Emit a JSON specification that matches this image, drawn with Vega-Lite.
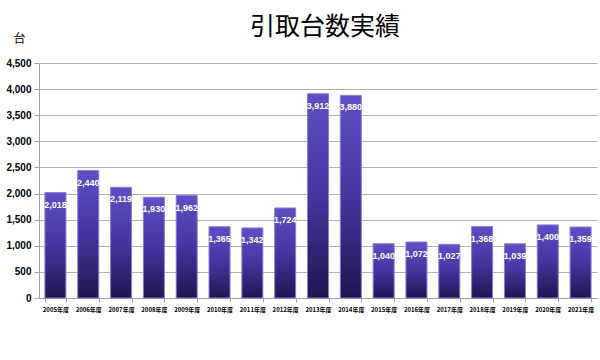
{
  "$schema": "https://vega.github.io/schema/vega-lite/v6.json",
  "autosize": "none",
  "width": 558,
  "height": 235,
  "padding": {"left": 39, "top": 63, "right": 3, "bottom": 62},
  "background": "white",
  "title": {"text": "引取台数実績", "fontSize": 25, "font": "Noto Sans CJK JP", "fontWeight": "normal", "color": "#000000", "offset": -8, "dx": 7, "anchor": "middle"},
  "data": {"values": [
    {"year": "2005年度", "v": 2018},
    {"year": "2006年度", "v": 2440},
    {"year": "2007年度", "v": 2119},
    {"year": "2008年度", "v": 1930},
    {"year": "2009年度", "v": 1962},
    {"year": "2010年度", "v": 1365},
    {"year": "2011年度", "v": 1342},
    {"year": "2012年度", "v": 1724},
    {"year": "2013年度", "v": 3912},
    {"year": "2014年度", "v": 3880},
    {"year": "2015年度", "v": 1040},
    {"year": "2016年度", "v": 1072},
    {"year": "2017年度", "v": 1027},
    {"year": "2018年度", "v": 1368},
    {"year": "2019年度", "v": 1039},
    {"year": "2020年度", "v": 1400},
    {"year": "2021年度", "v": 1359}
  ]},
  "encoding": {
    "x": {"field": "year", "type": "nominal", "sort": null,
      "scale": {"paddingInner": 0.36, "paddingOuter": 0.18},
      "axis": {"title": null, "labelAngle": 0, "labelFontSize": 6, "labelFont": "Noto Sans CJK JP", "labelFontWeight": "bold", "labelColor": "#000000", "labelPadding": 4, "domainColor": "#a0a0a0", "tickColor": "#a0a0a0", "tickBand": "extent", "tickSize": 4}},
    "y": {"field": "v", "type": "quantitative",
      "scale": {"domain": [0, 4500]},
      "axis": {"values": [0,500,1000,1500,2000,2500,3000,3500,4000,4500], "labelExpr": "format(datum.value, ',')", "title": "台", "titleAngle": 0, "titleX": -20, "titleY": -18, "titleFontSize": 12, "titleFont": "Noto Sans CJK JP", "titleFontWeight": "normal", "titleColor": "#000000", "labelFontSize": 10, "labelFontWeight": "bold", "labelFont": "Liberation Sans", "labelColor": "#000000", "labelPadding": 3, "gridColor": "#b0b0b0", "gridWidth": 1.2, "domainColor": "#a0a0a0", "tickColor": "#a0a0a0", "tickSize": 5}}
  },
  "layer": [
    {"mark": {"type": "bar", "stroke": "#8a7ae0", "strokeWidth": 1,
      "color": {"gradient": "linear", "x1": 0, "y1": 0, "x2": 0, "y2": 1,
        "stops": [{"offset": 0, "color": "#5e4fc4"}, {"offset": 0.5, "color": "#4535a0"}, {"offset": 1, "color": "#1f164f"}]}}},
    {"mark": {"type": "text", "baseline": "top", "dy": 8, "color": "white", "fontSize": 9, "font": "Liberation Sans", "fontWeight": "bold"},
      "encoding": {"text": {"field": "v", "type": "quantitative", "format": ","}}}
  ],
  "config": {"view": {"stroke": null}}
}
